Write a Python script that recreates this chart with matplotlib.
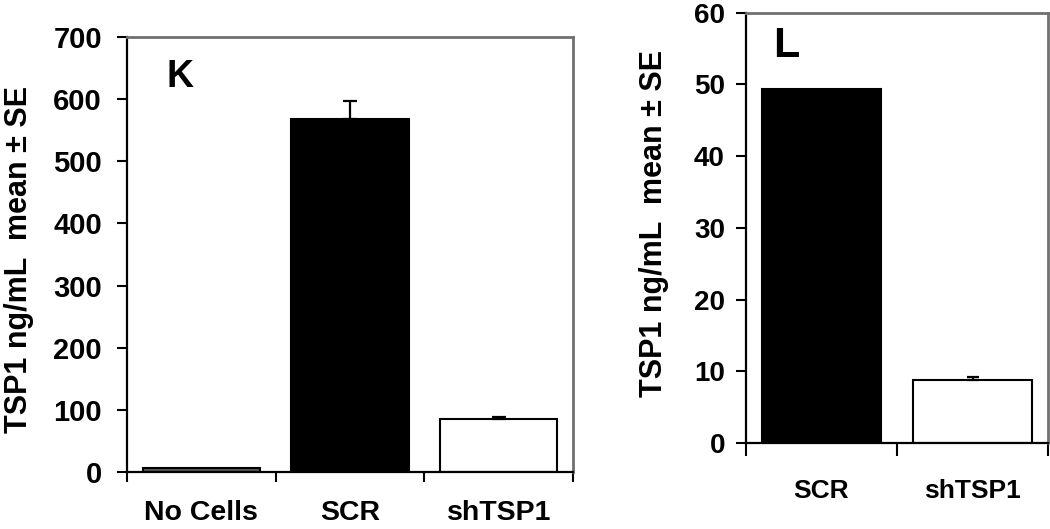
import matplotlib
matplotlib.use("Agg")
import matplotlib.pyplot as plt
from matplotlib import font_manager
import numpy as np

# panel K
k_groups = ["No Cells", "SCR", "shTSP1"]
k_means = [7, 568, 85]
k_se = [0, 29.5, 3.5]
k_colors = ["#5a5a5a", "black", "white"]
k_yticks = [0, 100, 200, 300, 400, 500, 600, 700]

# panel L
l_groups = ["SCR", "shTSP1"]
l_means = [49.4, 8.8]
l_se = [0, 0.45]
l_colors = ["black", "white"]
l_yticks = [0, 10, 20, 30, 40, 50, 60]

YLABEL = "TSP1 ng/mL  mean \u00b1 SE"


def pick_font(names):
    for name in names:
        try:
            font_manager.findfont(name, fallback_to_default=False)
            return name
        except ValueError:
            continue
    return "DejaVu Sans"


FONT = pick_font(["Liberation Sans", "Arial", "DejaVu Sans"])


def draw_panel(ax, groups, means, se, colors, yticks, tick_pt, xlab_pt, xpad, ypad, xtick_len, cap):
    n = len(groups)
    x = np.arange(n)
    ax.bar(x, means, width=0.79, color=colors, edgecolor="black", linewidth=1.5, zorder=2)
    se = np.array(se)
    has_err = se > 0
    ax.errorbar(x[has_err], np.array(means)[has_err],
                yerr=[np.zeros(has_err.sum()), se[has_err]],
                fmt="none", ecolor="black", elinewidth=1.6, capsize=cap, capthick=1.6, zorder=3)
    ax.set_xlim(-0.5, n - 0.5)
    ax.set_ylim(yticks[0], yticks[-1])
    ax.set_yticks(yticks)
    ax.set_yticklabels([str(v) for v in yticks], fontsize=tick_pt, fontweight="bold", family=FONT)
    ax.tick_params(axis="y", direction="out", length=7.2, width=1.5, pad=ypad)

    # category boundaries get the tick marks, names sit between them
    ax.set_xticks(np.arange(n + 1) - 0.5)
    ax.set_xticklabels([])
    ax.tick_params(axis="x", which="major", direction="out", length=xtick_len, width=1.5)
    ax.set_xticks(x, minor=True)
    ax.set_xticklabels(groups, minor=True, fontsize=xlab_pt, fontweight="bold", family=FONT)
    ax.tick_params(axis="x", which="minor", length=0, pad=xpad)

    for side in ["left", "bottom"]:
        ax.spines[side].set_color("black")
        ax.spines[side].set_linewidth(1.6)
    for side in ["top", "right"]:
        ax.spines[side].set_color("#707070")
        ax.spines[side].set_linewidth(2.0)


fig = plt.figure(figsize=(10.5, 5.29), dpi=100)
ax_k = fig.add_axes([127 / 1050, 1 - 472 / 529, 446 / 1050, 435 / 529])
ax_l = fig.add_axes([746 / 1050, 1 - 443 / 529, 302 / 1050, 430.3 / 529])

draw_panel(ax_k, k_groups, k_means, k_se, k_colors, k_yticks, 21, 20.5, 20.5, 10.8, 7.2, 4.7)
draw_panel(ax_l, l_groups, l_means, l_se, l_colors, l_yticks, 20, 19, 26, 8.0, 9.4, 4.0)

ax_k.text(0.088, 0.885, "K", transform=ax_k.transAxes, fontsize=27, fontweight="bold",
          family=FONT, va="baseline", ha="left")
ax_l.text(0.089, 0.897, "L", transform=ax_l.transAxes, fontsize=31, fontweight="bold",
          family=FONT, va="baseline", ha="left")

fig.text(19 / 1050, 1 - 259.5 / 529, YLABEL, rotation=90, ha="center", va="center",
         fontsize=22, fontweight="bold", family=FONT)
fig.text(654 / 1050, 1 - 223 / 529, YLABEL, rotation=90, ha="center", va="center",
         fontsize=22, fontweight="bold", family=FONT)

fig.savefig("out.png", dpi=100)
plt.close(fig)
